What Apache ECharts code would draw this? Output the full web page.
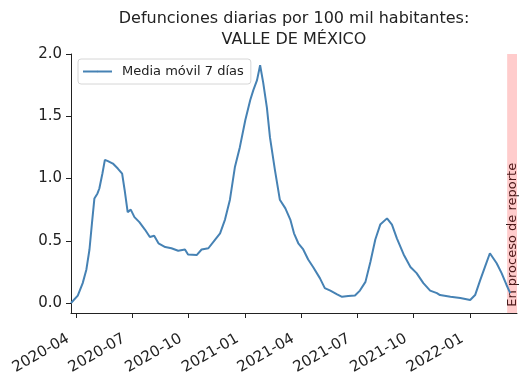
<!DOCTYPE html>
<html>
<head>
<meta charset="utf-8">
<style type="text/css">
html, body { margin: 0; padding: 0; background: #fff; }
#chart { width: 524px; height: 375px; }
</style>
<script type="text/javascript" src="https://cdn.jsdelivr.net/npm/echarts@6/dist/echarts.min.js"></script>
</head>
<body>
<div id="chart"></div>
<script type="text/javascript">
// fechas y valores (media movil 7 dias)
var fechas = [
	'2020-03-24', '2020-04-04', '2020-04-12', '2020-04-18', '2020-04-23', '2020-04-27',
	'2020-05-01', '2020-05-06', '2020-05-09', '2020-05-14', '2020-05-18', '2020-05-23',
	'2020-05-31', '2020-06-08', '2020-06-15', '2020-06-19', '2020-06-24', '2020-06-29',
	'2020-07-05', '2020-07-13', '2020-07-22', '2020-07-30', '2020-08-06', '2020-08-13',
	'2020-08-24', '2020-09-03', '2020-09-14', '2020-09-25', '2020-09-30', '2020-10-14',
	'2020-10-22', '2020-11-02', '2020-11-13', '2020-11-21', '2020-11-29', '2020-12-07',
	'2020-12-15', '2020-12-23', '2021-01-01', '2021-01-09', '2021-01-14', '2021-01-20',
	'2021-01-25', '2021-01-30', '2021-02-05', '2021-02-10', '2021-02-18', '2021-02-26',
	'2021-03-07', '2021-03-15', '2021-03-21', '2021-03-28', '2021-04-05', '2021-04-13',
	'2021-04-21', '2021-05-02', '2021-05-10', '2021-05-19', '2021-05-30', '2021-06-07',
	'2021-06-17', '2021-06-28', '2021-07-06', '2021-07-15', '2021-07-23', '2021-07-31',
	'2021-08-08', '2021-08-19', '2021-08-27', '2021-09-04', '2021-09-15', '2021-09-26',
	'2021-10-06', '2021-10-17', '2021-10-28', '2021-11-08', '2021-11-13', '2021-11-30',
	'2021-12-16', '2022-01-01', '2022-01-09', '2022-01-17', '2022-01-25', '2022-02-02',
	'2022-02-05', '2022-02-13', '2022-02-21', '2022-03-01', '2022-03-07'
];
var media7 = [
	0.00, 0.06, 0.16, 0.27, 0.43, 0.64,
	0.84, 0.88, 0.92, 1.04, 1.15, 1.14,
	1.12, 1.08, 1.04, 0.91, 0.73, 0.75,
	0.69, 0.65, 0.59, 0.53, 0.54, 0.48,
	0.45, 0.44, 0.42, 0.43, 0.39, 0.385,
	0.43, 0.44, 0.51, 0.56, 0.67, 0.83,
	1.09, 1.25, 1.47, 1.63, 1.71, 1.79,
	1.91, 1.77, 1.57, 1.33, 1.07, 0.83,
	0.76, 0.67, 0.56, 0.48, 0.43, 0.35,
	0.29, 0.20, 0.12, 0.10, 0.07, 0.05,
	0.056, 0.06, 0.10, 0.17, 0.33, 0.51,
	0.63, 0.68, 0.63, 0.52, 0.39, 0.29,
	0.24, 0.16, 0.10, 0.08, 0.064, 0.05,
	0.04, 0.024, 0.064, 0.18, 0.29, 0.40,
	0.40, 0.32, 0.24, 0.145, 0.08
];
var ticksX = ['2020-04-01', '2020-07-01', '2020-10-01', '2021-01-01', '2021-04-01',
	'2021-07-01', '2021-10-01', '2022-01-01'];
var ticksY = [0, 0.5, 1.0, 1.5, 2.0];
var rangoX = ['2020-03-24', '2022-03-18'];
var enProceso = ['2022-03-02', '2022-03-18'];

var fuente = 'DejaVu Sans';
var chart = echarts.init(document.getElementById('chart'));

function ts(f) { return +new Date(f + 'T00:00:00Z'); }

var serie = fechas.map(function (f, i) { return [ts(f), media7[i]]; });
var ticksXv = ticksX.map(ts);

chart.setOption({
	animation: false,
	backgroundColor: '#fff',
	title: {
		text: 'Defunciones diarias por 100 mil habitantes:\nVALLE DE MÉXICO',
		left: 294,
		top: 8,
		textAlign: 'center',
		padding: 0,
		textStyle: {
			fontFamily: fuente,
			fontSize: 16,
			fontWeight: 'normal',
			lineHeight: 21,
			color: '#222'
		}
	},
	legend: {
		left: 78,
		top: 59,
		padding: [6, 7, 6, 4],
		itemWidth: 29,
		itemHeight: 2,
		backgroundColor: 'rgba(255,255,255,0.8)',
		borderColor: '#d6d6d6',
		borderWidth: 1,
		borderRadius: 3,
		textStyle: {
			fontFamily: fuente,
			fontSize: 13,
			color: '#222',
			padding: [0, 0, 0, 5]
		},
		data: ['Media móvil 7 días']
	},
	grid: { left: 71, right: 7, top: 54, bottom: 62, outerBoundsMode: 'none' },
	xAxis: {
		type: 'value',
		min: ts(rangoX[0]),
		max: ts(rangoX[1]),
		splitLine: { show: false },
		axisLine: { show: true, onZero: false, lineStyle: { color: '#222', width: 1 } },
		axisTick: { show: true, length: 5, lineStyle: { color: '#222' }, customValues: ticksXv },
		axisLabel: {
			customValues: ticksXv,
			rotate: 30,
			margin: 20,
			padding: [0, 9, 0, 0],
			fontFamily: fuente,
			fontSize: 15,
			color: '#222',
			formatter: function (v) { return echarts.time.format(v, '{yyyy}-{MM}', true); }
		}
	},
	yAxis: {
		type: 'value',
		min: -0.08,
		max: 2.0,
		splitLine: { show: false },
		axisLine: { show: true, onZero: false, lineStyle: { color: '#222', width: 1 } },
		axisTick: { show: true, length: 5, lineStyle: { color: '#222' }, customValues: ticksY },
		axisLabel: {
			customValues: ticksY,
			margin: 9,
			fontFamily: fuente,
			fontSize: 15,
			color: '#222',
			formatter: function (v) { return v.toFixed(1); }
		}
	},
	series: [{
		name: 'Media móvil 7 días',
		type: 'line',
		symbol: 'none',
		data: serie,
		color: '#4682b4',
		lineStyle: { width: 2 },
		markArea: {
			silent: true,
			itemStyle: { color: 'rgba(255,0,0,0.2)' },
			data: [[{ xAxis: ts(enProceso[0]) }, { xAxis: ts(enProceso[1]) }]]
		}
	}]
});

// texto vertical sobre la banda roja
var p = chart.convertToPixel({ xAxisIndex: 0, yAxisIndex: 0 }, [ts(enProceso[1]), -0.03]);
chart.setOption({
	graphic: [{
		type: 'text',
		x: p[0] + 2,
		y: p[1],
		rotation: Math.PI / 2,
		style: {
			text: 'En proceso de reporte',
			fontFamily: fuente,
			fontSize: 13,
			fill: '#222',
			align: 'left',
			verticalAlign: 'bottom'
		}
	}]
});
</script>
</body>
</html>
